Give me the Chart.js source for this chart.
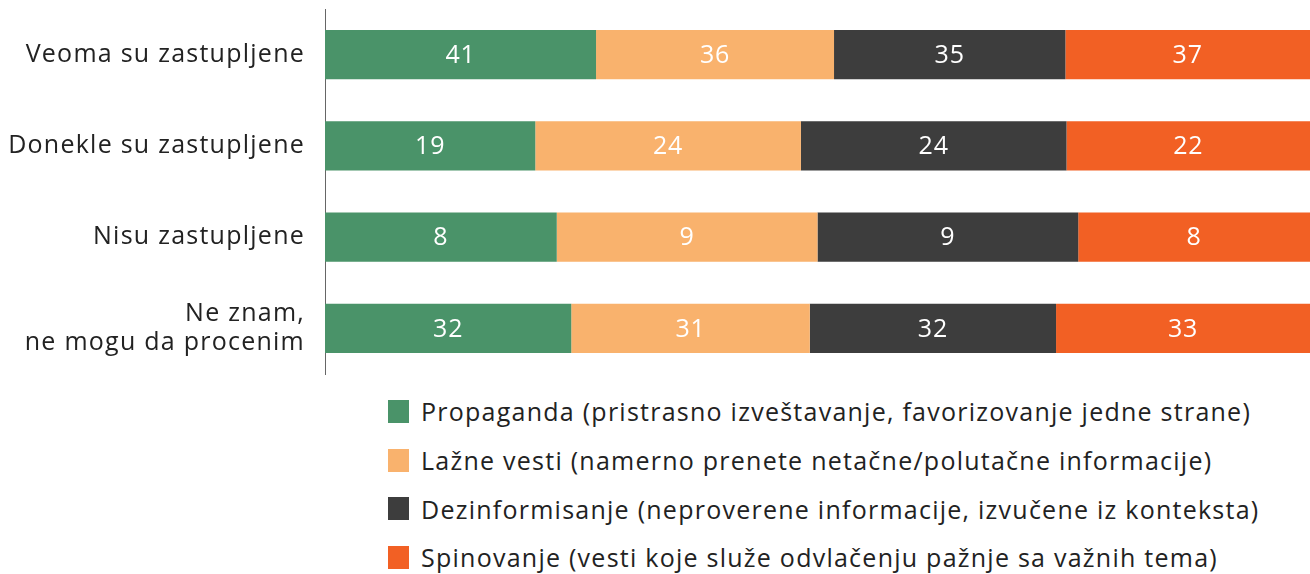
<!DOCTYPE html>
<html>
<head>
<meta charset="utf-8">
<script src="https://cdn.jsdelivr.net/npm/chart.js@4.4.1/dist/chart.umd.min.js"></script>
<style>
  html, body { margin: 0; padding: 0; background: #ffffff; }
  #wrap { position: relative; width: 1310px; height: 574px; overflow: hidden; }
  #c { position: absolute; left: 0; top: 0; }
  #legend { position: absolute; left: 388px; top: 387px; font-family: "Open Sans", sans-serif; font-size: 25px; letter-spacing: 1.25px; color: #222; }
  .item { height: 48.7px; display: flex; align-items: center; white-space: nowrap; }
  .sw { width: 21px; height: 23px; margin-right: 12px; flex: none; }
</style>
</head>
<body>
<div id="wrap">
  <canvas id="c" width="1310" height="382"></canvas>
  <div id="legend"></div>
</div>
<script>
const categories = ["Veoma su zastupljene", "Donekle su zastupljene", "Nisu zastupljene", ["Ne znam,", "ne mogu da procenim"]];
const seriesNames = [
  "Propaganda (pristrasno izveštavanje, favorizovanje jedne strane)",
  "Lažne vesti (namerno prenete netačne/polutačne informacije)",
  "Dezinformisanje (neproverene informacije, izvučene iz konteksta)",
  "Spinovanje (vesti koje služe odvlačenju pažnje sa važnih tema)"
];
const propaganda = [41, 19, 8, 32];
const lazneVesti = [36, 24, 9, 31];
const dezinformisanje = [35, 24, 9, 32];
const spinovanje = [37, 22, 8, 33];
const colors = ["#4a9369", "#f9b26d", "#3d3d3d", "#f26024"];

const raw = [propaganda, lazneVesti, dezinformisanje, spinovanje];
const totals = categories.map((_, i) => raw.reduce((s, arr) => s + arr[i], 0));
const shares = raw.map(arr => arr.map((v, i) => v / totals[i] * 100));

const FONT = '"Open Sans", sans-serif';

const spacing = {
  id: 'spacing',
  beforeDraw(chart) { chart.ctx.letterSpacing = '1.25px'; }
};

const valueLabels = {
  id: 'valueLabels',
  afterDatasetsDraw(chart) {
    const ctx = chart.ctx;
    ctx.save();
    ctx.letterSpacing = '0.8px';
    ctx.font = '25px ' + FONT;
    ctx.fillStyle = '#ffffff';
    ctx.textAlign = 'center';
    ctx.textBaseline = 'middle';
    chart.data.datasets.forEach((ds, di) => {
      const meta = chart.getDatasetMeta(di);
      meta.data.forEach((bar, i) => {
        const cx = (bar.x + bar.base) / 2;
        ctx.fillText(String(raw[di][i]), cx, bar.y + 1);
      });
    });
    ctx.restore();
  }
};

new Chart(document.getElementById('c'), {
  type: 'bar',
  data: {
    labels: categories,
    datasets: seriesNames.map((n, k) => ({
      label: n,
      data: shares[k],
      backgroundColor: colors[k],
      borderWidth: 0,
      categoryPercentage: 1,
      barPercentage: 0.54
    }))
  },
  options: {
    indexAxis: 'y',
    responsive: false,
    animation: false,
    layout: { padding: { top: 9, bottom: 8, left: 0, right: 0 } },
    plugins: { legend: { display: false }, tooltip: { enabled: false } },
    scales: {
      x: { stacked: true, min: 0, max: 100, display: false },
      y: {
        stacked: true,
        grid: { display: false, drawTicks: false },
        border: { display: true, color: '#666666', width: 1 },
        ticks: {
          color: '#222222',
          padding: 20,
          font: { family: FONT, size: 25, lineHeight: 1.15 }
        },
        afterFit(scale) {
          scale.width = 325;
          scale.paddingTop = 0;
          scale.paddingBottom = 0;
        }
      }
    }
  },
  plugins: [spacing, valueLabels]
});

const lg = document.getElementById('legend');
seriesNames.forEach((n, k) => {
  const d = document.createElement('div');
  d.className = 'item';
  d.innerHTML = '<span class="sw" style="background:' + colors[k] + '"></span><span>' + n + '</span>';
  lg.appendChild(d);
});
</script>
</body>
</html>
